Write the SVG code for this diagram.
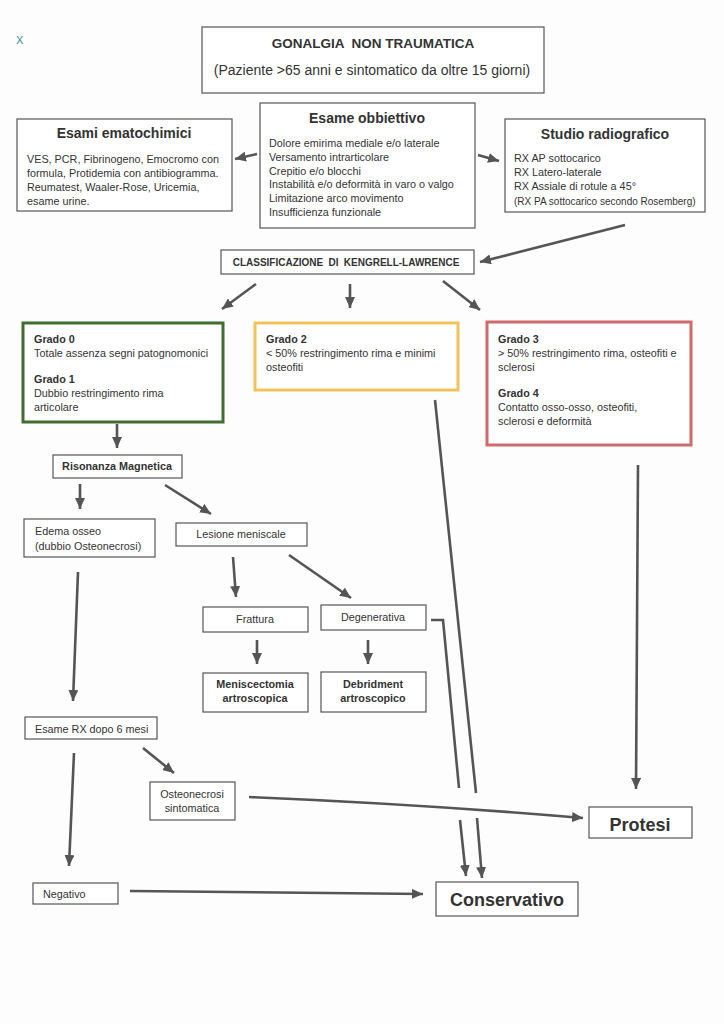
<svg xmlns="http://www.w3.org/2000/svg" width="724" height="1024" viewBox="0 0 724 1024">
<defs>
<marker id="ah" markerUnits="userSpaceOnUse" markerWidth="12" markerHeight="10" refX="11" refY="5" orient="auto">
<path d="M0,0 L11,5 L0,10 Z" fill="#555"/>
</marker>
<style>
.box{fill:#fff;stroke:#555;stroke-width:1.2}
.t{font-family:"Liberation Sans",Arial,sans-serif;fill:#333;font-size:10.8px}
.b{font-weight:bold}
.c{text-anchor:middle}
.ln{fill:none;stroke:#555;stroke-width:2.6}
.ar{fill:none;stroke:#555;stroke-width:2.6;marker-end:url(#ah)}
</style>
</defs>
<rect width="724" height="1024" fill="#fdfdfd"/>
<text x="16" y="44" style="font-family:'Liberation Sans',Arial,sans-serif;font-size:11px;fill:#3d8a99">X</text>

<g id="title">
<rect class="box" x="202" y="27" width="342" height="66"/>
<text class="t b c" x="373" y="48" style="font-size:13.5px;white-space:pre">GONALGIA  NON TRAUMATICA</text>
<text class="t c" x="372" y="75" style="font-size:14px">(Paziente &gt;65 anni e sintomatico da oltre 15 giorni)</text>
</g>

<g id="esami">
<rect class="box" x="17" y="119" width="215" height="92"/>
<text class="t b c" x="124" y="138" style="font-size:14px">Esami ematochimici</text>
<text class="t" x="27" y="163">VES, PCR, Fibrinogeno, Emocromo con</text>
<text class="t" x="27" y="177">formula, Protidemia con antibiogramma.</text>
<text class="t" x="27" y="191">Reumatest, Waaler-Rose, Uricemia,</text>
<text class="t" x="27" y="205">esame urine.</text>
</g>

<g id="obbiettivo">
<rect class="box" x="260" y="103" width="215" height="125"/>
<text class="t b c" x="367" y="123" style="font-size:14px">Esame obbiettivo</text>
<text class="t" x="269" y="147">Dolore emirima mediale e/o laterale</text>
<text class="t" x="269" y="161">Versamento intrarticolare</text>
<text class="t" x="269" y="175">Crepitio e/o blocchi</text>
<text class="t" x="269" y="188">Instabilità e/o deformità in varo o valgo</text>
<text class="t" x="269" y="202">Limitazione arco movimento</text>
<text class="t" x="269" y="216">Insufficienza funzionale</text>
</g>

<g id="radiografico">
<rect class="box" x="505" y="119" width="200" height="93"/>
<text class="t b c" x="605" y="139" style="font-size:14px">Studio radiografico</text>
<text class="t" x="514" y="162">RX AP sottocarico</text>
<text class="t" x="514" y="176">RX Latero-laterale</text>
<text class="t" x="514" y="190">RX Assiale di rotule a 45°</text>
<text class="t" x="514" y="205" style="font-size:10px">(RX PA sottocarico secondo Rosemberg)</text>
</g>

<g id="classificazione">
<rect class="box" x="221" y="250" width="253" height="24"/>
<text class="t b c" x="346" y="266" style="font-size:10px;word-spacing:2.5px">CLASSIFICAZIONE DI KENGRELL-LAWRENCE</text>
</g>

<g id="grado01">
<rect x="23" y="323" width="200" height="99" fill="#fff" stroke="#3f6e30" stroke-width="3"/>
<text class="t b" x="34" y="343">Grado 0</text>
<text class="t" x="34" y="357">Totale assenza segni patognomonici</text>
<text class="t b" x="34" y="383">Grado 1</text>
<text class="t" x="34" y="397">Dubbio restringimento rima</text>
<text class="t" x="34" y="411">articolare</text>
</g>

<g id="grado2">
<rect x="255" y="323" width="203" height="67" fill="#fff" stroke="#f1c35c" stroke-width="3"/>
<text class="t b" x="266" y="343">Grado 2</text>
<text class="t" x="266" y="357">&lt; 50% restringimento rima e minimi</text>
<text class="t" x="266" y="371">osteofiti</text>
</g>

<g id="grado34">
<rect x="487" y="322" width="204" height="123" fill="#fff" stroke="#cf6b6b" stroke-width="3"/>
<text class="t b" x="498" y="343">Grado 3</text>
<text class="t" x="498" y="357">&gt; 50% restringimento rima, osteofiti e</text>
<text class="t" x="498" y="371">sclerosi</text>
<text class="t b" x="498" y="397">Grado 4</text>
<text class="t" x="498" y="411">Contatto osso-osso, osteofiti,</text>
<text class="t" x="498" y="425">sclerosi e deformità</text>
</g>

<g id="risonanza">
<rect class="box" x="53" y="455" width="129" height="23"/>
<text class="t b c" x="117" y="470">Risonanza Magnetica</text>
</g>

<g id="edema">
<rect class="box" x="24" y="519" width="131" height="38"/>
<text class="t" x="35" y="535">Edema osseo</text>
<text class="t" x="35" y="550">(dubbio Osteonecrosi)</text>
</g>

<g id="lesione">
<rect class="box" x="176" y="523" width="131" height="23"/>
<text class="t c" x="241" y="538">Lesione meniscale</text>
</g>

<g id="frattura">
<rect class="box" x="203" y="607" width="105" height="25"/>
<text class="t c" x="255" y="623">Frattura</text>
</g>

<g id="degenerativa">
<rect class="box" x="321" y="605" width="105" height="25"/>
<text class="t c" x="373" y="621">Degenerativa</text>
</g>

<g id="meniscectomia">
<rect class="box" x="203" y="673" width="105" height="39"/>
<text class="t b c" x="255" y="688">Meniscectomia</text>
<text class="t b c" x="255" y="702">artroscopica</text>
</g>

<g id="debridment">
<rect class="box" x="321" y="672" width="105" height="40"/>
<text class="t b c" x="373" y="688">Debridment</text>
<text class="t b c" x="373" y="702">artroscopico</text>
</g>

<g id="esamerx">
<rect class="box" x="25" y="717" width="132" height="22"/>
<text class="t" x="35" y="733">Esame RX dopo 6 mesi</text>
</g>

<g id="osteonecrosi">
<rect class="box" x="150" y="782" width="85" height="38"/>
<text class="t c" x="192" y="798">Osteonecrosi</text>
<text class="t c" x="192" y="812">sintomatica</text>
</g>

<g id="negativo">
<rect class="box" x="33" y="883" width="85" height="21"/>
<text class="t" x="43" y="898">Negativo</text>
</g>

<g id="protesi">
<rect class="box" x="589" y="807" width="103" height="31"/>
<text class="t b c" x="640" y="831" style="font-size:18px">Protesi</text>
</g>

<g id="conservativo">
<rect class="box" x="436" y="882" width="142" height="34"/>
<text class="t b c" x="507" y="906" style="font-size:18px">Conservativo</text>
</g>

<g id="connectors">
<line class="ar" x1="257" y1="154" x2="235" y2="159"/>
<line class="ar" x1="478" y1="155" x2="499" y2="161"/>
<line class="ar" x1="625" y1="225" x2="480" y2="262"/>
<line class="ar" x1="256" y1="284" x2="222" y2="309"/>
<line class="ar" x1="350" y1="284" x2="350" y2="308"/>
<line class="ar" x1="443" y1="281" x2="480" y2="310"/>
<line class="ar" x1="117" y1="424" x2="117" y2="448"/>
<line class="ar" x1="80" y1="484" x2="80" y2="509"/>
<line class="ar" x1="165" y1="485" x2="211" y2="514"/>
<line class="ar" x1="78" y1="572" x2="73" y2="701"/>
<line class="ar" x1="233" y1="557" x2="236" y2="597"/>
<line class="ar" x1="289" y1="555" x2="351" y2="598"/>
<line class="ar" x1="257" y1="640" x2="257" y2="664"/>
<line class="ar" x1="368" y1="640" x2="368" y2="664"/>
<polyline class="ln" points="431,620 443,620 459,788"/>
<line class="ln" x1="435" y1="400" x2="476" y2="793"/>
<line class="ar" x1="460" y1="820" x2="466" y2="876"/>
<line class="ar" x1="477" y1="818" x2="482" y2="878"/>
<line class="ar" x1="638" y1="465" x2="636" y2="789"/>
<line class="ar" x1="74" y1="753" x2="69" y2="866"/>
<line class="ar" x1="143" y1="748" x2="174" y2="773"/>
<path class="ar" d="M249,797 Q420,804 583,818"/>
<line class="ar" x1="130" y1="891" x2="423" y2="894"/>
</g>
</svg>
